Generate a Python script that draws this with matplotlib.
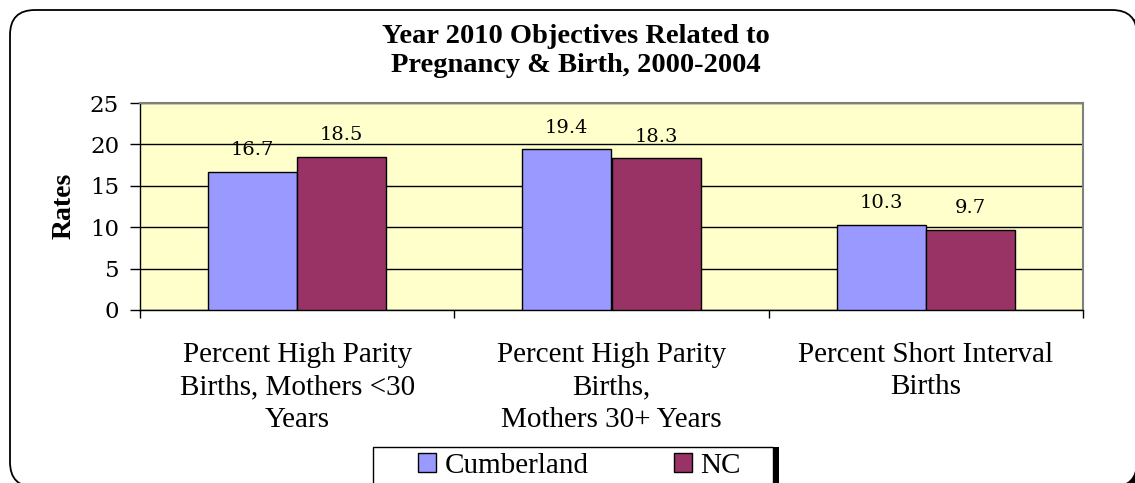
import numpy as np
import matplotlib
matplotlib.use('Agg')
import matplotlib.pyplot as plt
from matplotlib.patches import FancyBboxPatch, Rectangle
from matplotlib.transforms import IdentityTransform

categories = ['Percent High Parity\nBirths, Mothers <30\nYears',
              'Percent High Parity\nBirths,\nMothers 30+ Years',
              'Percent Short Interval\nBirths']
series_names = ['Cumberland', 'NC']
cumberland = [16.7, 19.4, 10.3]
nc = [18.5, 18.3, 9.7]
yticks = [0, 5, 10, 15, 20, 25]

W, H = 1135, 483
fig = plt.figure(figsize=(W / 100, H / 100), dpi=100)
fig.patch.set_facecolor('white')
pix = IdentityTransform()

# rounded chart border with a dark drop shadow
fig.add_artist(FancyBboxPatch((15, H - 492), 1127, 477,
                              boxstyle='round,pad=0,rounding_size=25',
                              fc='black', ec='black', transform=pix, zorder=-3))
fig.add_artist(FancyBboxPatch((10, H - 487), 1127, 477,
                              boxstyle='round,pad=0,rounding_size=25',
                              fc='white', ec='black', lw=1.3, transform=pix, zorder=-2))

ax = fig.add_axes([140 / W, (H - 310) / H, 943 / W, 207 / H])
ax.set_facecolor('#FFFFCC')

x = np.arange(len(categories))
w = 0.284
b1 = ax.bar(x - w / 2, cumberland, w, color='#9999FF', edgecolor='black', lw=1, zorder=3)
b2 = ax.bar(x + w / 2, nc, w, color='#993366', edgecolor='black', lw=1, zorder=3)
for b in (b1, b2):
    ax.bar_label(b, fmt='%.1f', padding=9, fontsize=14, family='DejaVu Serif')

ax.set_xlim(-0.5, 2.5)
ax.set_ylim(0, 25)
ax.set_yticks(yticks)
ax.tick_params(axis='y', direction='out', length=7, width=1, pad=8, labelsize=16.5)
for t in ax.get_yticklabels():
    t.set_fontfamily('DejaVu Serif')

ax.set_xticks([-0.5, 0.5, 1.5, 2.5])
ax.set_xticklabels([])
ax.set_xticks(x, minor=True)
ax.set_xticklabels(categories, minor=True, fontsize=21, family='Liberation Serif',
                   linespacing=1.32)
ax.tick_params(axis='x', which='major', direction='out', length=6, width=1)
ax.tick_params(axis='x', which='minor', length=0, pad=23)

ax.yaxis.grid(True, color='black', lw=1)
ax.set_axisbelow(True)
for s in ('top', 'right'):
    ax.spines[s].set_color('#808080')
    ax.spines[s].set_linewidth(1.5)
for s in ('left', 'bottom'):
    ax.spines[s].set_color('black')
    ax.spines[s].set_linewidth(1)

fig.text(576 / W, 1 - 72 / H, 'Year 2010 Objectives Related to\nPregnancy & Birth, 2000-2004',
         ha='center', va='baseline', fontsize=20.5, fontweight='bold',
         family='Liberation Serif', linespacing=1.2)
fig.text(64 / W, 1 - 206 / H, 'Rates', rotation=90, ha='center', va='center',
         fontsize=20, fontweight='bold', family='Liberation Serif')

# legend box + shadow
fig.add_artist(Rectangle((379, H - 505), 400, 58, fc='black', transform=pix, zorder=3))
fig.add_artist(Rectangle((373, H - 500), 400, 53, fc='white', ec='black', lw=1,
                         transform=pix, zorder=3.5))
fig.legend(handles=[b1, b2], labels=series_names, loc='upper left',
           bbox_to_anchor=(418 / W, 1 - 453 / H), ncol=2, frameon=False,
           borderpad=0, borderaxespad=0, handlelength=0.6, handleheight=0.6,
           handletextpad=0.3, columnspacing=2.95,
           prop={'family': 'Liberation Serif', 'size': 21})

fig.savefig('out.png', dpi=100)
